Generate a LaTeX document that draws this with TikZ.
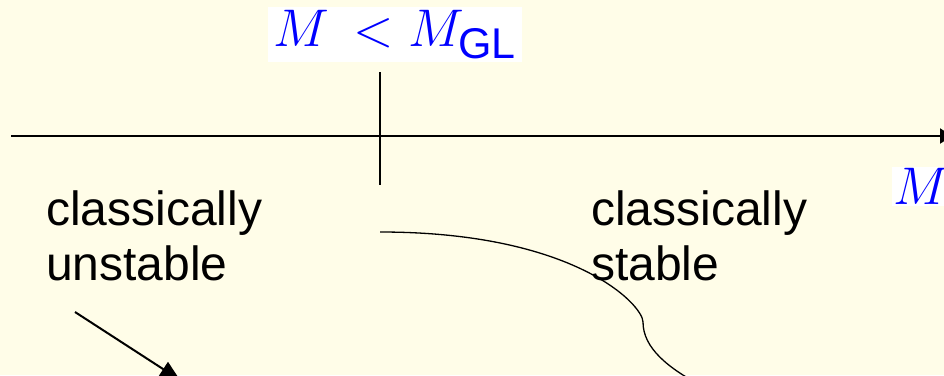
\RequirePackage{fix-cm}
\documentclass[tikz,border=0pt]{standalone}
\usepackage{fontspec}
\setmainfont{Liberation Sans}
\setsansfont{Liberation Sans}
\usetikzlibrary{arrows.meta}
\definecolor{bgyellow}{RGB}{255,253,232}
\definecolor{mblue}{RGB}{0,0,255}
\tikzset{
  lbl/.style={inner sep=0pt, font=\fontsize{48}{55}\selectfont, align=left, text=black},
  mathlbl/.style={fill=white, inner sep=0pt, text=mblue, font=\fontsize{53}{60}\selectfont},
  axis/.style={line width=2.2pt, -{Triangle[length=12pt,width=15pt]}},
  tick/.style={line width=2.2pt},
  curve/.style={line width=1.3pt},
  pointer/.style={line width=2pt, -{Triangle[length=20pt,width=17pt]}}
}
\begin{document}
\begin{tikzpicture}[x=1pt,y=-1pt]
\useasboundingbox (0,0) rectangle (944,375);
\fill[bgyellow] (0,0) rectangle (944,375);
\clip (0,0) rectangle (944,375);
% axis
\coordinate (axL) at (11,136);
\coordinate (axR) at (952,136);
\draw[axis] (axL) -- (axR);
% tick
\coordinate (tkT) at (380,72);
\coordinate (tkB) at (380,185);
\draw[tick] (tkT) -- (tkB);
% top label
\node[mathlbl, minimum width=254pt, minimum height=55pt] (top) at (395,34.5)
  {$M \mkern3mu< M_{\hbox{\fontsize{43}{43}\selectfont\sffamily GL}}$};
% axis label
\node[mathlbl, anchor=west, minimum height=39pt, inner xsep=1pt] (mlab) at (892,186.5) {$M$};
% texts
\node[lbl, anchor=base west] (unst) at (46,280) {classically\\unstable};
\node[lbl, anchor=base west] (stab) at (591,280) {classically\\stable};
% curve
\coordinate (c0) at (380,232);
\coordinate (c1) at (643,322);
\coordinate (c2) at (702,386);
\draw[curve] (c0) .. controls (575,232) and (643,305) .. (c1)
             .. controls (643,348) and (668,368) .. (c2);
% pointer arrow
\coordinate (p0) at (75,312);
\coordinate (p1) at (180,380);
\draw[pointer] (p0) -- (p1);
\end{tikzpicture}
\end{document}
